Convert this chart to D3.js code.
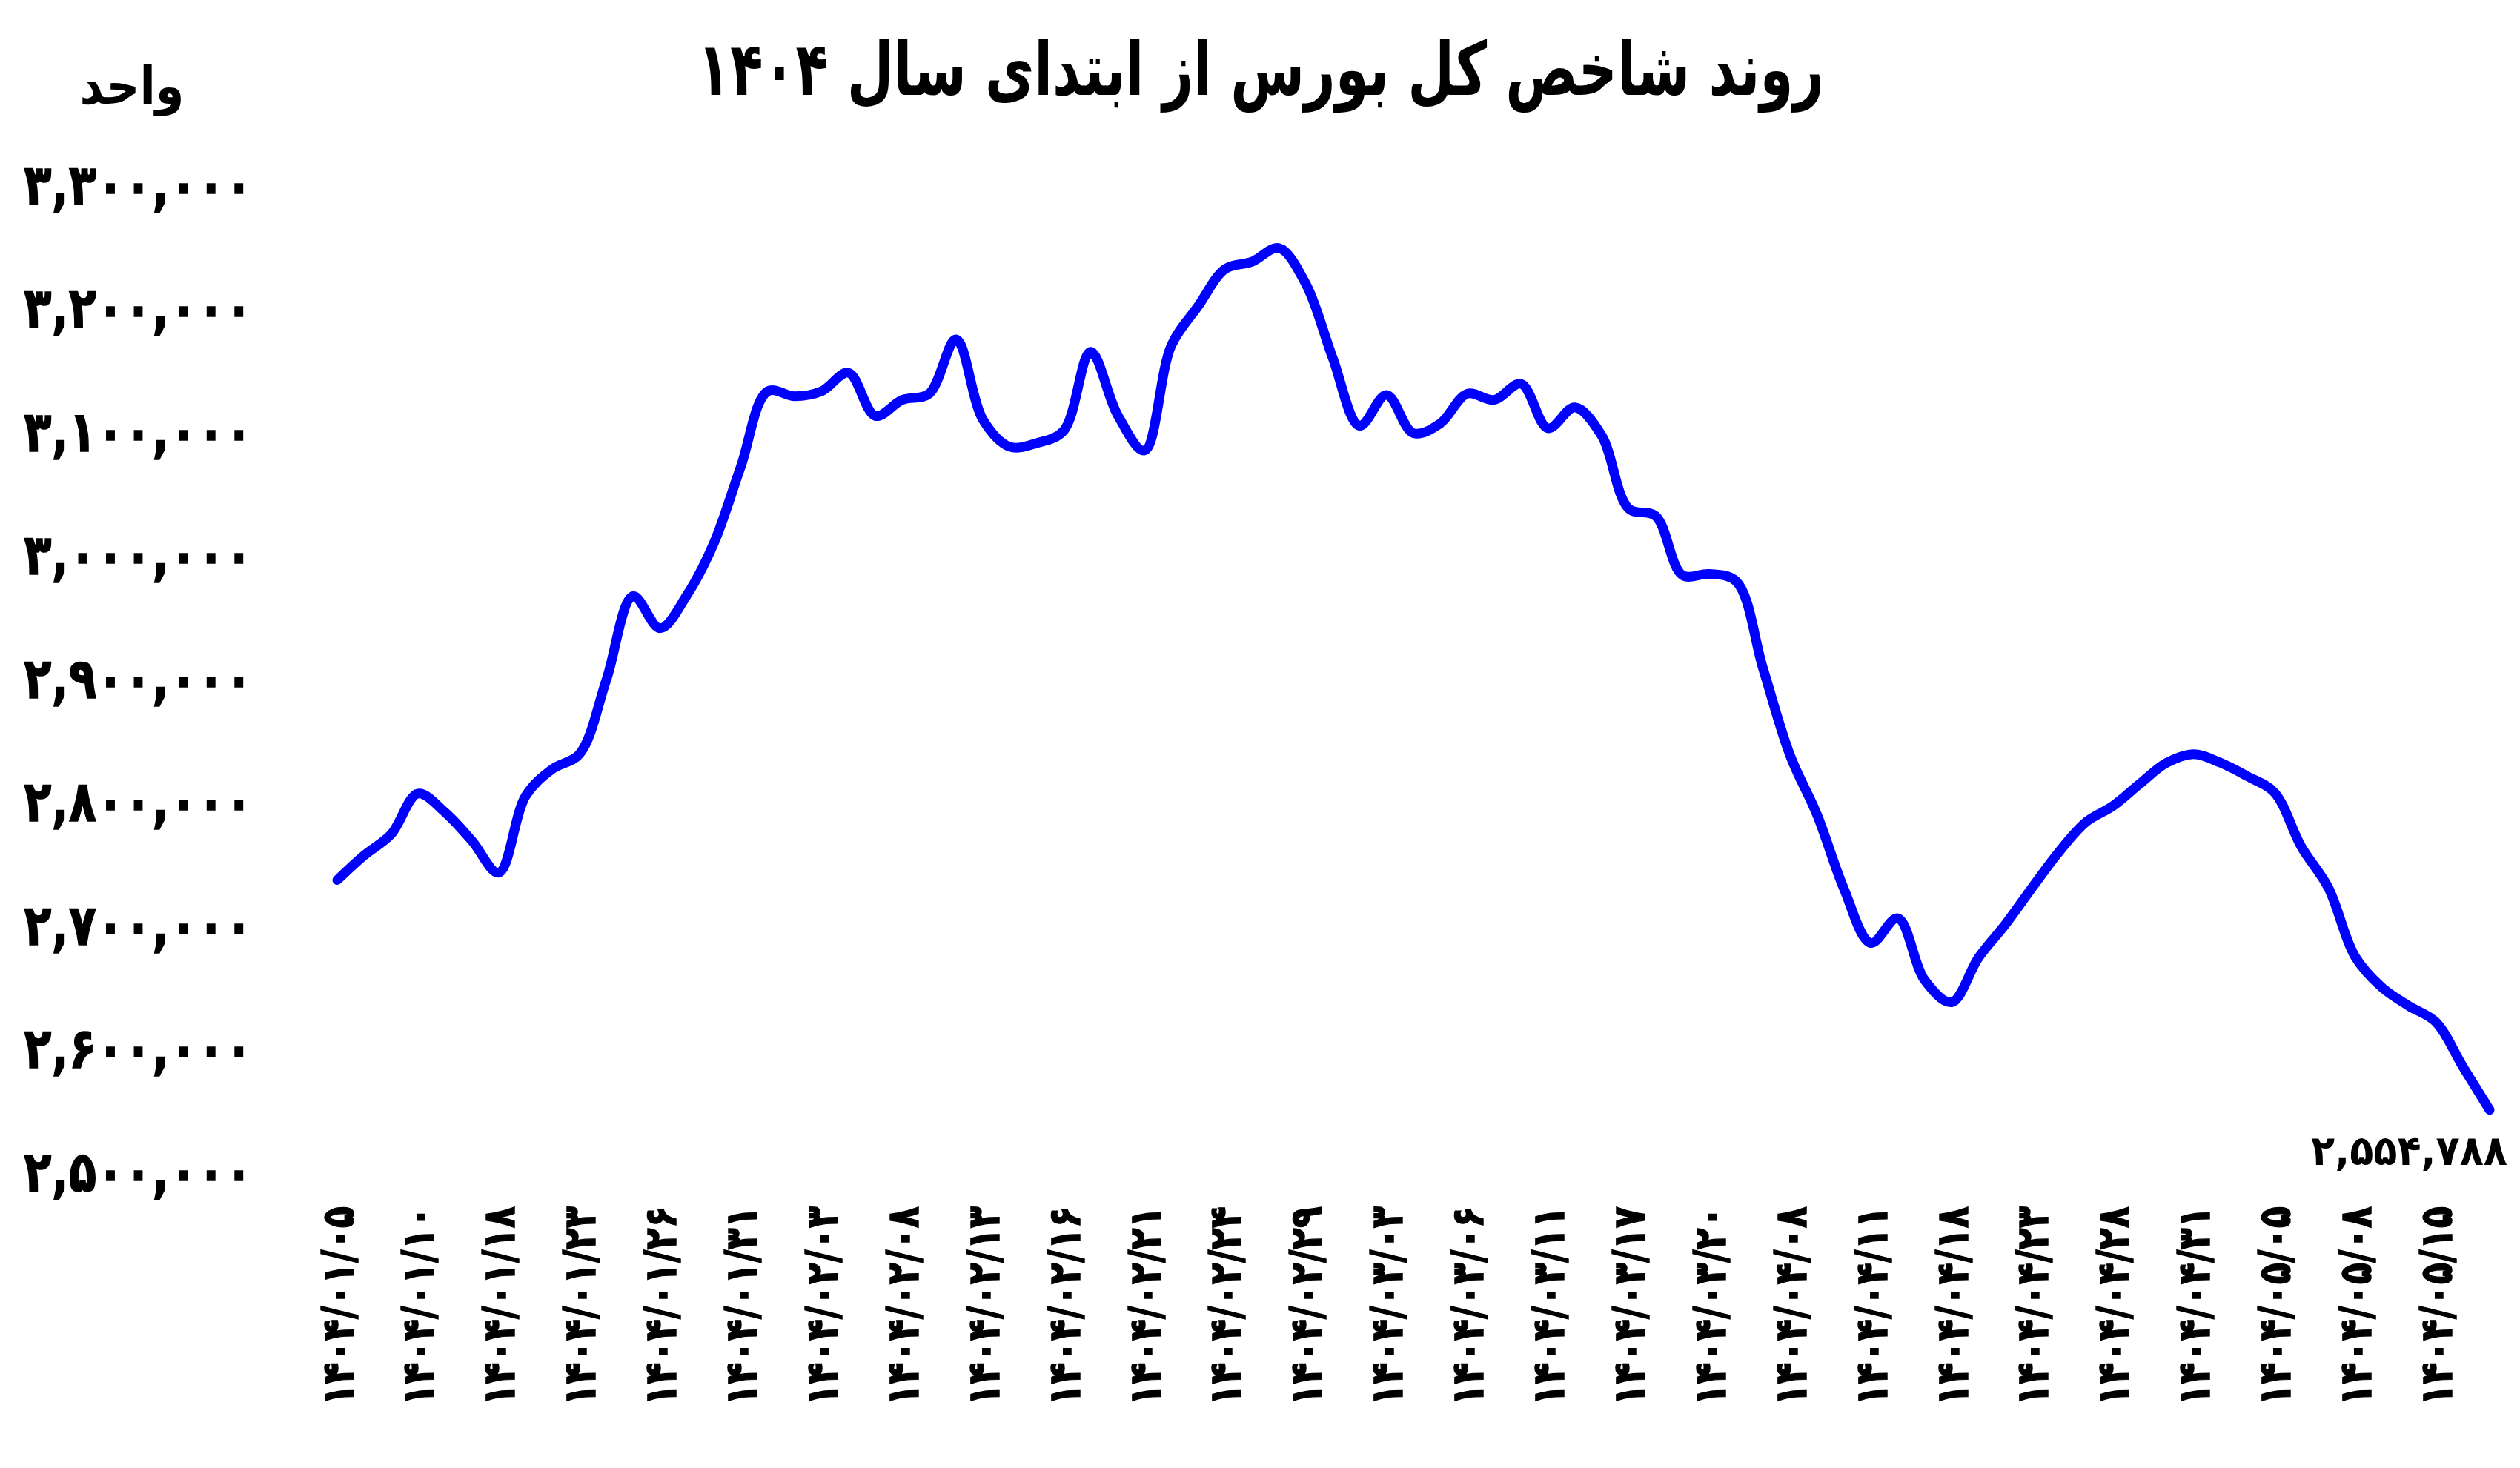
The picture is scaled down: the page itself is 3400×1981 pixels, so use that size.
<!DOCTYPE html>
<html>
<head>
<meta charset="utf-8">
<script src="https://cdn.jsdelivr.net/npm/d3@7"></script>
<style>
  html, body { margin: 0; padding: 0; background: #fff; }
  text { font-family: "DejaVu Sans", sans-serif; font-weight: bold; fill: #000; }
</style>
</head>
<body>
<script>
var width = 3400,
    height = 1981;

// trading days since the start of 1404 (every third one is labelled)
var dates = [
  '1404/01/05', '1404/01/06', '1404/01/09', '1404/01/10', '1404/01/16', '1404/01/17',
  '1404/01/18', '1404/01/19', '1404/01/20', '1404/01/23', '1404/01/24', '1404/01/25',
  '1404/01/26', '1404/01/27', '1404/01/30', '1404/01/31', '1404/02/01', '1404/02/02',
  '1404/02/03', '1404/02/06', '1404/02/07', '1404/02/08', '1404/02/09', '1404/02/10',
  '1404/02/13', '1404/02/14', '1404/02/15', '1404/02/16', '1404/02/17', '1404/02/20',
  '1404/02/21', '1404/02/22', '1404/02/23', '1404/02/24', '1404/02/27', '1404/02/28',
  '1404/02/29', '1404/02/30', '1404/02/31', '1404/03/03', '1404/03/04', '1404/03/05',
  '1404/03/06', '1404/03/07', '1404/03/10', '1404/03/11', '1404/03/12', '1404/03/13',
  '1404/03/17', '1404/03/18', '1404/03/19', '1404/03/20', '1404/03/21', '1404/04/07',
  '1404/04/08', '1404/04/09', '1404/04/10', '1404/04/11', '1404/04/16', '1404/04/17',
  '1404/04/18', '1404/04/21', '1404/04/22', '1404/04/23', '1404/04/24', '1404/04/25',
  '1404/04/28', '1404/04/29', '1404/04/30', '1404/04/31', '1404/05/01', '1404/05/04',
  '1404/05/05', '1404/05/06', '1404/05/07', '1404/05/08', '1404/05/12', '1404/05/14',
  '1404/05/15', '1404/05/18', '1404/05/19'
];

// شاخص کل (واحد)
var values = [
  2741000, 2761000, 2778000, 2811000, 2796000, 2773000, 2747000, 2809000, 2831000, 2843000,
  2903000, 2971000, 2945000, 2972000, 3014000, 3076000, 3137000, 3133000, 3137000, 3152000,
  3117000, 3130000, 3135000, 3179000, 3114000, 3092000, 3095000, 3105000, 3169000, 3118000,
  3089000, 3174000, 3206000, 3236000, 3242000, 3253000, 3224000, 3164000, 3109000, 3134000,
  3103000, 3111000, 3135000, 3130000, 3143000, 3107000, 3124000, 3101000, 3042000, 3036000,
  2988000, 2989000, 2983000, 2912000, 2842000, 2794000, 2734000, 2690000, 2710000, 2660000,
  2642000, 2678000, 2705000, 2735000, 2764000, 2788000, 2801000, 2819000, 2836000, 2843000,
  2836000, 2825000, 2812000, 2768000, 2735000, 2679000, 2654000, 2639000, 2626000, 2590000,
  2554788
];

var yTicks = [2500000, 2600000, 2700000, 2800000, 2900000, 3000000, 3100000, 3200000, 3300000];
var labelEvery = 3;

var title = 'روند شاخص کل بورس از ابتدای سال ۱۴۰۴';
var unitLabel = 'واحد';

var faDigits = '۰۱۲۳۴۵۶۷۸۹';
function toFa(s) {
    return String(s).replace(/[0-9]/g, function (d) { return faDigits[+d]; });
}
var fmtNum = d3.format(',');

var svg = d3.select('body').append('svg').attr('width', width).attr('height', height);

var x = d3.scalePoint().domain(dates).range([455, 3359]);
var y = d3.scaleLinear().domain([2500000, 3300000]).range([1589, 256.5]);

// squeeze texts horizontally to the narrow look of the original font
function squeeze(sel, refLen, target) {
    var k = target / refLen;
    sel.each(function () {
        var len = this.getComputedTextLength();
        d3.select(this).attr('textLength', len * k).attr('lengthAdjust', 'spacingAndGlyphs');
    });
}

// title
var t = svg.append('text')
    .attr('x', 1701).attr('y', 128)
    .attr('text-anchor', 'middle')
    .attr('direction', 'rtl')
    .style('font-size', '100px')
    .text(title);
squeeze(t, t.node().getComputedTextLength(), 1520);

// unit
var u = svg.append('text')
    .attr('x', 178).attr('y', 140)
    .attr('text-anchor', 'middle')
    .attr('direction', 'rtl')
    .style('font-size', '70px')
    .text(unitLabel);
squeeze(u, u.node().getComputedTextLength(), 141);

// y axis
var yAxis = svg.append('g')
    .attr('transform', 'translate(341,0)')
    .call(d3.axisLeft(y).tickValues(yTicks).tickSize(0).tickPadding(0)
        .tickFormat(function (d) { return toFa(fmtNum(d)); }));
yAxis.select('.domain').remove();
var yTexts = yAxis.selectAll('text')
    .attr('dy', null)
    .attr('y', -8)
    .attr('dominant-baseline', 'central')
    .style('font-size', '76px')
    .style('font-family', '"DejaVu Sans", sans-serif')
    .style('stroke', '#000')
    .style('stroke-width', '1.5px');
var yRef = yTexts.filter(function (d) { return d === 3300000; }).node().getComputedTextLength();
squeeze(yTexts, yRef, 309);

// x axis
var xAxis = svg.append('g')
    .attr('transform', 'translate(0,1628)')
    .call(d3.axisBottom(x).tickSize(0).tickPadding(0)
        .tickValues(dates.filter(function (d, i) { return i % labelEvery === 0; }))
        .tickFormat(toFa));
xAxis.select('.domain').remove();
var xTexts = xAxis.selectAll('text')
    .attr('y', 0)
    .attr('dy', null)
    .attr('x', 0)
    .attr('dominant-baseline', 'central')
    .attr('text-anchor', 'end')
    .attr('transform', 'rotate(-90)')
    .style('font-size', '60px')
    .style('font-family', '"DejaVu Sans", sans-serif')
    .style('stroke', '#000')
    .style('stroke-width', '1.5px');
squeeze(xTexts, xTexts.node().getComputedTextLength(), 269);

// line
var line = d3.line()
    .x(function (d, i) { return x(dates[i]); })
    .y(function (d) { return y(d); })
    .curve(d3.curveCatmullRom.alpha(0.5));

svg.append('path')
    .datum(values)
    .attr('d', line)
    .attr('fill', 'none')
    .attr('stroke', '#0000ff')
    .attr('stroke-width', 13)
    .attr('stroke-linecap', 'round')
    .attr('stroke-linejoin', 'round');

// last value label
var last = values[values.length - 1];
var e = svg.append('text')
    .attr('x', 3383)
    .attr('y', y(last) + 74)
    .attr('text-anchor', 'end')
    .style('font-size', '56px')
    .text(toFa(fmtNum(last)));
squeeze(e, e.node().getComputedTextLength(), 265);
</script>
</body>
</html>
